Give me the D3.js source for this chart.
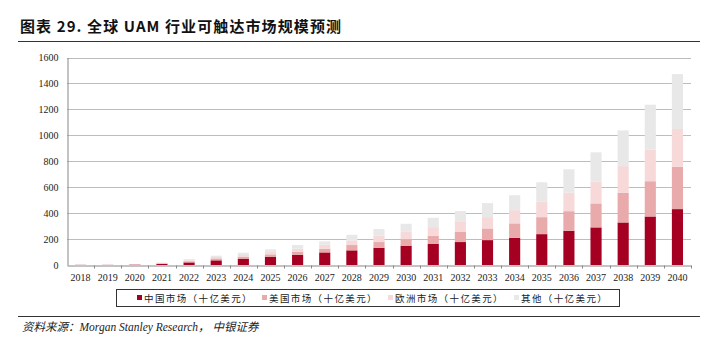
<!DOCTYPE html>
<html><head><meta charset="utf-8">
<script src="https://cdn.jsdelivr.net/npm/d3@7/dist/d3.min.js"></script>
<style>
body{margin:0;background:#fff;}
svg{display:block;}
</style></head>
<body>
<script>
const years = ["2018","2019","2020","2021","2022","2023","2024","2025","2026","2027","2028","2029","2030","2031","2032","2033","2034","2035","2036","2037","2038","2039","2040"];
const china  = [1,1,3,9,20,36,49,64,79,97,113,133,149,162,177,192,210,238,264,290,328,374,431];
const usa    = [1,0.5,2,4,9,15,15,18,24,29,41,44,51,64,78,90,111,131,151,185,228,272,326];
const europe = [0.5,0.5,1.5,3,8,11,13,18,23,30,36,49,56,66,77,87,102,121,144,169,206,244,292];
const other  = [0.5,0.5,1.5,3,8,10,18,21,28,26,43,51,62,72,84,108,115,148,179,225,276,346,423];
const yTicks = [0,200,400,600,800,1000,1200,1400,1600];
const seriesNames = ["中国市场（十亿美元）","美国市场（十亿美元）","欧洲市场（十亿美元）","其他（十亿美元）"];
const colors = ["#a50021","#e8aaab","#f7d9da","#e8e8e8"];

const W = 715, H = 343;
const svg = d3.select("body").append("svg").attr("width", W).attr("height", H);
const cjk = "'Noto Sans CJK SC', sans-serif";
const serif = "'Liberation Serif', 'DejaVu Serif', serif";

// title
svg.append("text").attr("x", 20).attr("y", 32).attr("font-family", cjk).attr("font-weight", "bold")
  .attr("font-size", 15).attr("letter-spacing", 1.1).attr("fill", "#111").text("图表 29. 全球 UAM 行业可触达市场规模预测");
svg.append("line").attr("x1", 18).attr("x2", 700).attr("y1", 41.5).attr("y2", 41.5).attr("stroke", "#333").attr("stroke-width", 1);

const pL = 67, pR = 691, pT = 57.5, pB = 265;
const x = d3.scaleBand().domain(years).range([pL, pR]).paddingInner(0.59).paddingOuter(0.295);
const y = d3.scaleLinear().domain([0, 1600]).range([pB, pT]);

// gridlines
svg.append("g").selectAll("line").data(yTicks.filter(d => d > 0)).join("line")
  .attr("x1", pL).attr("x2", pR).attr("y1", d => Math.round(y(d)) + 0.5).attr("y2", d => Math.round(y(d)) + 0.5)
  .attr("stroke", "#bdbdbd").attr("stroke-width", 1);

// y axis
const yAxis = d3.axisLeft(y).tickValues(yTicks).tickFormat(d3.format("d")).tickSize(0).tickPadding(9);
const gy = svg.append("g").attr("transform", `translate(${pL + 0.5},0)`).call(yAxis);
gy.select(".domain").attr("stroke", "#888");
gy.selectAll("text").attr("font-family", serif).attr("font-size", 10).attr("fill", "#222");

// stacks
const table = years.map((yr, i) => ({year: yr, c: china[i], u: usa[i], e: europe[i], o: other[i]}));
const stack = d3.stack().keys(["c","u","e","o"])(table);
svg.append("g").selectAll("g").data(stack).join("g").attr("fill", (d, i) => colors[i])
  .selectAll("rect").data(d => d).join("rect")
  .attr("x", d => x(d.data.year)).attr("width", x.bandwidth())
  .attr("y", d => y(d[1])).attr("height", d => Math.max(0, y(d[0]) - y(d[1])));

// x axis
const xAxis = d3.axisBottom(x).tickSize(0).tickPadding(8);
const gx = svg.append("g").attr("transform", `translate(0,${pB + 0.5})`).call(xAxis);
gx.select(".domain").attr("stroke", "#888");
gx.selectAll("text").attr("font-family", serif).attr("font-size", 10).attr("fill", "#222");
const step = x.step();
const bounds = d3.range(1, years.length + 1).map(i => pL + step * i);
gx.append("g").selectAll("line").data(bounds).join("line")
  .attr("x1", d => Math.round(d) + 0.5).attr("x2", d => Math.round(d) + 0.5).attr("y1", 0).attr("y2", 3)
  .attr("stroke", "#888");

// legend
svg.append("rect").attr("x", 116.5).attr("y", 289.5).attr("width", 503).attr("height", 17)
  .attr("fill", "none").attr("stroke", "#333").attr("stroke-width", 1);
const legX = [137, 262, 388, 514];
const lg = svg.append("g").selectAll("g").data(seriesNames).join("g")
  .attr("transform", (d, i) => `translate(${legX[i]},298)`);
lg.append("rect").attr("x", 0).attr("y", -3).attr("width", 5).attr("height", 5).attr("fill", (d, i) => colors[i]);
lg.append("text").attr("x", 7).attr("y", 3.5).attr("font-family", cjk).attr("font-size", 9.5)
  .attr("letter-spacing", 1.4).attr("fill", "#222").text(d => d);

// footer
svg.append("line").attr("x1", 18).attr("x2", 700).attr("y1", 316.5).attr("y2", 316.5).attr("stroke", "#333").attr("stroke-width", 1);
svg.append("text").attr("x", 22).attr("y", 331).attr("font-family", "'Liberation Serif', 'Noto Sans CJK SC', serif")
  .attr("font-style", "italic").attr("font-size", 11.5).attr("fill", "#222")
  .text("资料来源：Morgan Stanley Research， 中银证券");
</script>
</body></html>
